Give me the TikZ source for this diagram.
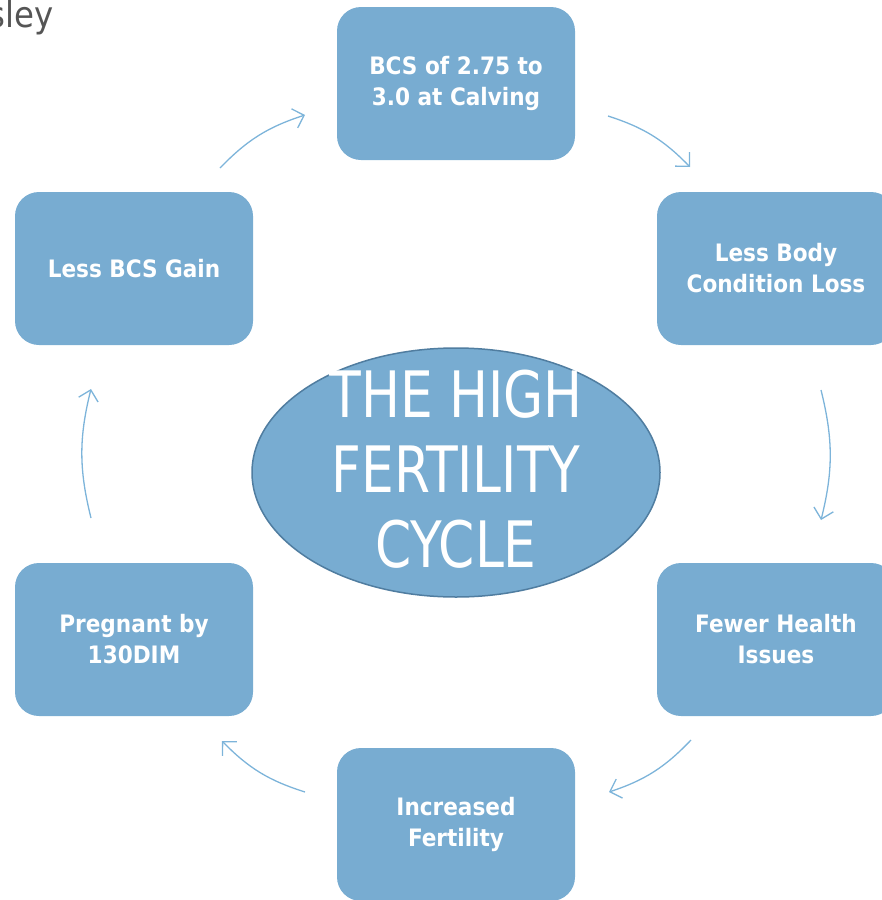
\documentclass[tikz,border=0pt]{standalone}
\usepackage{fontspec}
\setmainfont{DejaVu Sans Condensed}
\newfontfamily\ellfont[FakeStretch=0.9]{DejaVu Sans Condensed}
\usetikzlibrary{shapes.geometric,arrows.meta}
\definecolor{boxfill}{RGB}{120,172,209}
\definecolor{ellborder}{RGB}{80,125,160}
\definecolor{arrowcol}{RGB}{125,180,218}
\definecolor{graytext}{RGB}{85,85,85}
\tikzset{
  cyclebox/.style={draw=none, fill=boxfill, rounded corners=24pt, minimum width=238pt, minimum height=153pt,
    text=white, font=\bfseries\fontsize{24}{31}\selectfont, align=center, inner sep=0pt},
  cyclearrow/.style={draw=arrowcol, line width=1.3pt, -{Straight Barb[length=10pt,width=20pt,line width=1.3pt]}, bend left=14}
}
\begin{document}
\begin{tikzpicture}[x=1pt,y=-1pt]
\useasboundingbox (0,0) rectangle (882,900);
\clip (0,0) rectangle (882,900);
\node[anchor=base west, inner sep=0pt, text=graytext, font=\fontsize{36}{36}\selectfont] (frag) at (-12,27) {sley};
\node[cyclebox] (top) at (456,83.5) {BCS of 2.75 to\\3.0 at Calving};
\node[cyclebox] (rtop) at (776,268.5) {Less Body\\Condition Loss};
\node[cyclebox] (rbot) at (776,639.5) {Fewer Health\\Issues};
\node[cyclebox] (bot) at (456,824.5) {Increased\\Fertility};
\node[cyclebox] (lbot) at (134,639.5) {Pregnant by\\130DIM};
\node[cyclebox] (ltop) at (134,268.5) {Less BCS Gain};
\node[ellipse, draw=ellborder, line width=1.5pt, fill=boxfill, minimum width=408pt, minimum height=249pt,
  inner sep=0pt] (center) at (456,472.5) {};
\node[text=white, font=\ellfont\fontsize{64}{75}\selectfont, align=center, inner sep=0pt] (centertext) at (456,469)
  {THE HIGH\\FERTILITY\\CYCLE};
\coordinate (a1s) at (220,168); \coordinate (a1e) at (305,115);
\coordinate (a2s) at (608,116); \coordinate (a2e) at (690,167);
\coordinate (a3s) at (821,390); \coordinate (a3e) at (821,520);
\coordinate (a4s) at (691,740); \coordinate (a4e) at (609,792);
\coordinate (a5s) at (305,792); \coordinate (a5e) at (222,741);
\coordinate (a6s) at (91,518); \coordinate (a6e) at (91,389);
\draw[cyclearrow] (a1s) to (a1e);
\draw[cyclearrow] (a2s) to (a2e);
\draw[cyclearrow] (a3s) to (a3e);
\draw[cyclearrow] (a4s) to (a4e);
\draw[cyclearrow] (a5s) to (a5e);
\draw[cyclearrow] (a6s) to (a6e);
\end{tikzpicture}
\end{document}
